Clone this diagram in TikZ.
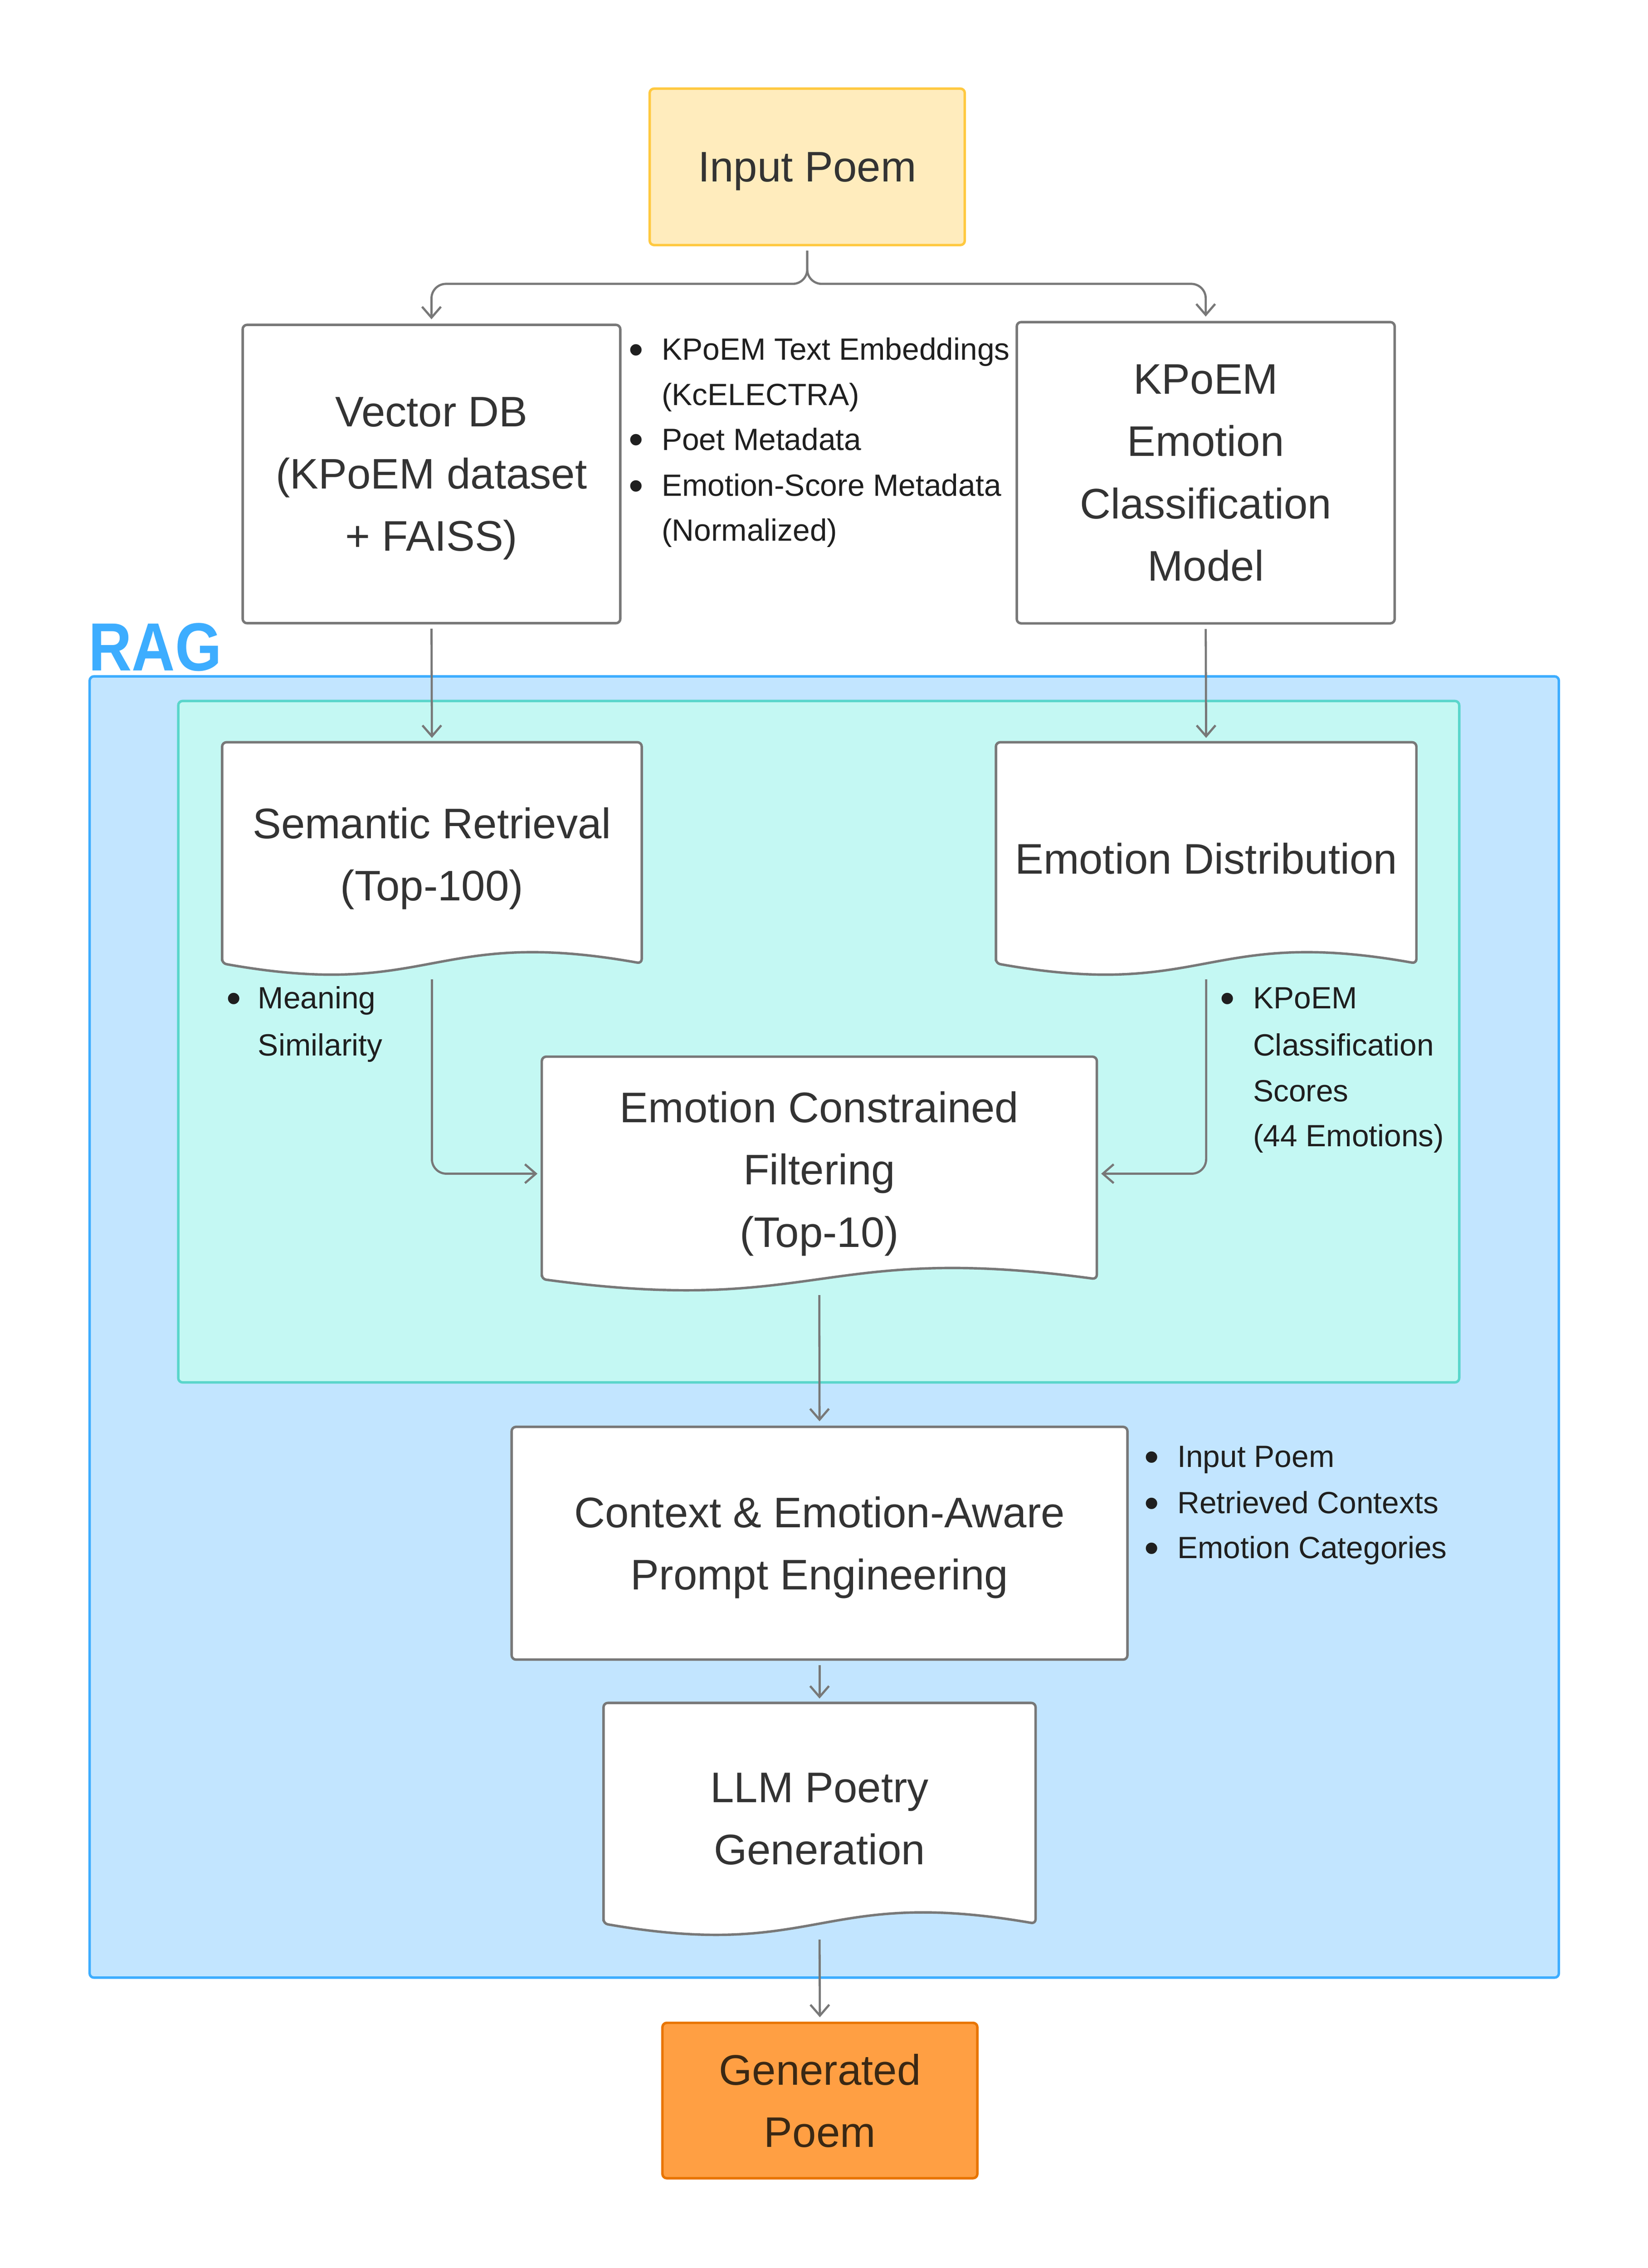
\documentclass[tikz,border=0pt]{standalone}
\usepackage{graphicx}
\usepackage{fontspec}
\setmainfont{Liberation Sans}
\usetikzlibrary{arrows.meta}
\definecolor{txt}{HTML}{333333}
\definecolor{btxt}{HTML}{1F1F1F}
\definecolor{edge}{HTML}{787878}
\definecolor{ragfill}{HTML}{C2E5FF}
\definecolor{ragline}{HTML}{3DADFF}
\definecolor{tealfill}{HTML}{C4F8F3}
\definecolor{tealline}{HTML}{5AD6CB}
\definecolor{yfill}{HTML}{FFECBD}
\definecolor{yline}{HTML}{FFC940}
\definecolor{ofill}{HTML}{FF9F43}
\definecolor{oline}{HTML}{E87500}
\definecolor{otxt}{HTML}{3A2814}
\pgfdeclarelayer{bg}
\pgfsetlayers{bg,main}
\newcommand{\docshape}[1]{\path[docline] ([yshift=8pt]#1.south west) -- (#1.north west) -- (#1.north east) -- ([yshift=8pt]#1.south east) .. controls ([yshift=34pt]#1.south) and ([yshift=-18pt]#1.south) .. ([yshift=8pt]#1.south west) -- cycle;}
\begin{document}
\begin{tikzpicture}[x=1pt,y=-1pt,
  box/.style={draw=edge, line width=1.7pt, fill=white, rounded corners=3pt, align=center, text=txt, font=\fontsize{29.5}{43}\selectfont, inner sep=0pt, text depth=0pt},
  docnode/.style={align=center, text=txt, font=\fontsize{29.5}{43}\selectfont, inner sep=0pt},
  docline/.style={draw=edge, line width=1.7pt, fill=white, rounded corners=3pt},
  conn/.style={draw=edge, line width=1.5pt, rounded corners=10pt, -{Straight Barb[length=7.5pt,width=13pt]}, shorten <=3pt, shorten >=3pt},
  note/.style={anchor=base west, inner sep=0pt, text=btxt, font=\fontsize{21.2}{31}\selectfont},
  bul/.style={anchor=base, inner sep=0pt, text=btxt, font=\fontsize{29}{31}\selectfont, yshift=-2.8pt},
  container/.style={line width=1.7pt, rounded corners=3pt, inner sep=0pt},
]
\useasboundingbox (0,0) rectangle (1138,1566);

% containers
\begin{pgfonlayer}{bg}
\fill[white] (0,0) rectangle (1138,1566);
\node[container, draw=ragline, fill=ragfill, minimum width=1014.7pt, minimum height=898.5pt] (rag) at (569.25,916.25) {};
\node[container, draw=tealline, fill=tealfill, minimum width=884.7pt, minimum height=470.5pt] (teal) at (565.45,719.25) {};
\end{pgfonlayer}

\node[anchor=base west, inner sep=0pt, text=ragline, font=\fontsize{47}{47}\selectfont\bfseries] (raglbl) at (61,463) {\scalebox{0.88}[1]{RAG}};

% top boxes
\node[box, draw=yline, fill=yfill, minimum width=217.6pt, minimum height=108pt] (inp) at (557.5,115.2) {Input Poem};
\node[box, minimum width=260.8pt, minimum height=206pt] (vdb) at (298,327.3) {Vector DB\\(KPoEM dataset\\+ FAISS)};
\node[box, minimum width=261pt, minimum height=208pt] (ecm) at (832.7,326.4) {KPoEM\\Emotion\\Classification\\Model};

% document nodes
\node[docnode, minimum width=289.4pt, minimum height=160.3pt] (sem) at (298.3,592.85) {Semantic Retrieval\\(Top-100)};
\node[docnode, minimum width=290pt, minimum height=160.3pt] (edist) at (833,592.85) {Emotion Distribution};
\node[docnode, minimum width=382.9pt, minimum height=161.2pt] (filt) at (565.85,810.4) {Emotion Constrained\\Filtering\\(Top-10)};
\node[box, minimum width=425.3pt, minimum height=160.7pt] (ctx) at (566,1065.55) {Context \& Emotion-Aware\\Prompt Engineering};
\node[docnode, minimum width=298pt, minimum height=160pt] (llm) at (566,1256) {LLM Poetry\\Generation};
\node[box, draw=oline, fill=ofill, text=otxt, minimum width=217.5pt, minimum height=107.3pt] (gen) at (566.25,1450.35) {Generated\\Poem};

\begin{pgfonlayer}{bg}
\docshape{sem}
\docshape{edist}
\docshape{filt}
\docshape{llm}
\end{pgfonlayer}

% notes: vector db
\node[bul] (d1a) at (439.4,248.6) {•};
\node[note] (n1a) at (456.8,248.6) {KPoEM Text Embeddings};
\node[note] (n1b) at (456.8,279.7) {(KcELECTRA)};
\node[bul] (d1c) at (439.4,310.7) {•};
\node[note] (n1c) at (456.8,310.7) {Poet Metadata};
\node[bul] (d1d) at (439.4,342.5) {•};
\node[note] (n1d) at (456.8,342.5) {Emotion-Score Metadata};
\node[note] (n1e) at (456.8,373.5) {(Normalized)};

% notes: semantic retrieval
\node[bul] (d2a) at (161.5,696.5) {•};
\node[note] (n2a) at (178,696.5) {Meaning};
\node[note] (n2b) at (178,729) {Similarity};

% notes: emotion distribution
\node[bul] (d3a) at (847.8,696.5) {•};
\node[note] (n3a) at (865.2,696.5) {KPoEM};
\node[note] (n3b) at (865.2,729) {Classification};
\node[note] (n3c) at (865.2,760.5) {Scores};
\node[note] (n3d) at (865.2,791.5) {(44 Emotions)};

% notes: prompt
\node[bul] (d4a) at (795.3,1013) {•};
\node[note] (n4a) at (813,1013) {Input Poem};
\node[bul] (d4b) at (795.3,1045) {•};
\node[note] (n4b) at (813,1045) {Retrieved Contexts};
\node[bul] (d4c) at (795.3,1076) {•};
\node[note] (n4c) at (813,1076) {Emotion Categories};

% connectors
\coordinate (split) at (557.5,196);
\draw[conn] (inp.south) -- (split) -| (vdb.north);
\draw[conn] (inp.south) -- (split) -| (ecm.north);
\draw[conn] (vdb.south) -- (sem.north);
\draw[conn] (ecm.south) -- (edist.north);
\draw[conn] (sem.south) |- (filt.west);
\draw[conn] (edist.south) |- (filt.east);
\draw[conn] (filt.south) -- (ctx.north);
\draw[conn] (ctx.south) -- (llm.north);
\draw[conn] (llm.south) -- (gen.north);
\end{tikzpicture}
\end{document}
